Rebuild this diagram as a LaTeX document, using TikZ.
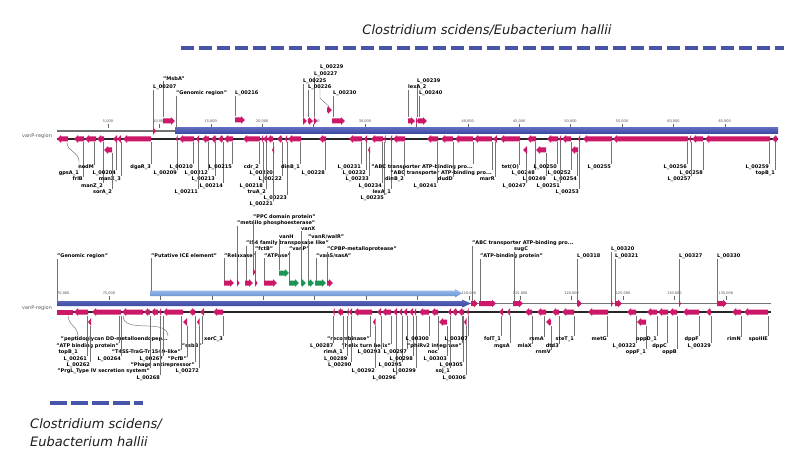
\documentclass[tikz,border=0pt]{standalone}
\usepackage{fontspec}
\setmainfont{DejaVu Sans}
\newcounter{lc}
\definecolor{mg}{RGB}{204,24,104}
\definecolor{gr}{RGB}{28,150,84}
\definecolor{bar1}{RGB}{92,104,190}
\definecolor{bar2}{RGB}{58,68,156}
\definecolor{lbar1}{RGB}{160,192,236}
\definecolor{lbar2}{RGB}{100,145,210}
\definecolor{dashc}{RGB}{72,84,170}
\definecolor{ttl}{RGB}{30,30,30}
\tikzset{
 lab/.style={inner sep=0pt,font=\fontsize{5}{6}\selectfont\bfseries,text=black},
 lead/.style={draw=black!55,line width=0.45pt},
 rul/.style={inner sep=0pt,font=\fontsize{3.5}{4}\selectfont,text=black!70},
 tickmark/.style={draw=black!60,line width=0.4pt},
 ruler/.style={draw=black!55,line width=1.2pt},
 strand/.style={draw=black!85,line width=1.1pt},
 trk/.style={inner sep=0pt,font=\fontsize{5}{6}\selectfont,text=black!65},
 species/.style={inner sep=0pt,font=\fontsize{13}{18}\selectfont\itshape,text=ttl,align=left},
 dashline/.style={draw=dashc,line width=3.5pt,dash pattern=on 13pt off 5pt},
}
\newcommand\farrow[4][mg]{\pgfmathsetmacro\hx{max(#2,#3-4)}\fill[#1] (#2,#4-2.5) -- (\hx,#4-2.5) -- (\hx,#4-3.8) -- (#3,#4) -- (\hx,#4+3.8) -- (\hx,#4+2.5) -- (#2,#4+2.5) -- cycle;}
\newcommand\rarrow[4][mg]{\pgfmathsetmacro\hx{min(#3,#2+4)}\fill[#1] (#3,#4-2.5) -- (\hx,#4-2.5) -- (\hx,#4-3.8) -- (#2,#4) -- (\hx,#4+3.8) -- (\hx,#4+2.5) -- (#3,#4+2.5) -- cycle;}
\newcommand\toplab[4]{\stepcounter{lc}\node[lab,anchor=west] (n\thelc) at (#1,#2) {#3};\coordinate (c\thelc) at (#1,#4);\draw[lead] (n\thelc.south west) -- (c\thelc);}
\newcommand\botlab[4]{\stepcounter{lc}\node[lab,anchor=east] (n\thelc) at (#1,#2) {#3};\coordinate (c\thelc) at (#1,#4);\draw[lead] (n\thelc.north east) -- (c\thelc);}
\begin{document}
\begin{tikzpicture}[x=1pt,y=-1pt]
\useasboundingbox (0,0) rectangle (798,473);
\fill[white] (0,0) rectangle (798,473);
% species labels and dashed bars
\node[species] (title) at (487,30) {Clostridium scidens/Eubacterium hallii};
\coordinate (d1) at (181,48); \coordinate (d2) at (784,48);
\draw[dashline] (d1) -- (d2);
\coordinate (d3) at (50,403); \coordinate (d4) at (143,403);
\draw[dashline,dash pattern=on 17pt off 4pt] (d3) -- (d4);
\node[species,anchor=west] (sp2) at (30,433) {Clostridium scidens/\\Eubacterium hallii};

% ================= TOP TRACK =================
\node[trk,anchor=west] (tr1) at (22,136) {vanP-region};
\coordinate (r1a) at (57,131); \coordinate (r1b) at (778,131);
\draw[ruler] (r1a) -- (r1b);
\foreach \k in {1,...,13}{
  \pgfmathtruncatemacro\v{5*\k}
  \coordinate (tk\k) at ({56.6+51.4*\k},124);
  \draw[tickmark] (tk\k) -- ++(0,4);
  \node[rul] (rt\k) at ({56.6+51.4*\k},121) {\v,000};
}
\shade[top color=bar1,bottom color=bar2] (175,128) rectangle (778,134);
\coordinate (s1a) at (57,139); \coordinate (s1b) at (778,139);
\draw[strand] (s1a) -- (s1b);

% top labels (forward strand)
\toplab{163}{79}{"MsbA"}{117}
\toplab{153}{87}{L\_00207}{128.5}
\toplab{176}{93}{"Genomic region"}{128}
\toplab{235}{93}{L\_00216}{116.5}
\stepcounter{lc}\node[lab,anchor=west] (l229) at (320,67) {L\_00229};
\coordinate (f229) at (329,106.5);
\draw[lead] (l229.south west) -- (320,98) -- (f229);
\toplab{314}{74}{L\_00227}{117}
\toplab{303}{81}{L\_00225}{117}
\toplab{308}{87}{L\_00226}{117}
\toplab{333}{93}{L\_00230}{117}
\toplab{417}{81}{L\_00239}{117}
\toplab{408}{87}{lexA\_2}{117}
\toplab{419}{93}{L\_00240}{117}

% bottom labels (reverse strand)
\node[lab,anchor=east] (gps) at (79,173) {gpsA\_1};
\coordinate (gpsf) at (67,142.5);
\draw[lead] (gps.north east) -- (79,161) to[out=90,in=-90] (gpsf);
\botlab{83}{179}{frlB}{142.5}
\botlab{94}{167}{nodM}{142.5}
\botlab{103}{186}{manZ\_2}{142.5}
\botlab{116}{173}{L\_00204}{142.5}
\botlab{121}{179}{manX\_3}{142.5}
\botlab{112}{192}{sorA\_2}{153.5}
\botlab{151}{167}{dgaR\_3}{142.5}
\botlab{177}{173}{L\_00209}{142.5}
\botlab{193}{167}{L\_00210}{142.5}
\botlab{208}{173}{L\_00212}{142.5}
\botlab{215}{179}{L\_00213}{142.5}
\botlab{223}{186}{L\_00214}{142.5}
\botlab{198}{192}{L\_00211}{142.5}
\botlab{232}{167}{L\_00215}{142.5}
\botlab{259}{167}{cdr\_2}{142.5}
\botlab{273}{173}{L\_00220}{142.5}
\botlab{282}{179}{L\_00222}{142.5}
\botlab{263}{186}{L\_00218}{142.5}
\botlab{266}{192}{truA\_2}{142.5}
\botlab{287}{198}{L\_00223}{142.5}
\botlab{273}{204}{L\_00221}{151.5}
\botlab{300}{167}{dinB\_1}{142.5}
\botlab{325}{173}{L\_00228}{142.5}
\botlab{361}{167}{L\_00231}{142.5}
\botlab{366}{173}{L\_00232}{142.5}
\botlab{369}{179}{L\_00233}{151.5}
\botlab{382}{186}{L\_00234}{142.5}
\botlab{391}{192}{lexA\_1}{142.5}
\botlab{384}{198}{L\_00235}{142.5}
\botlab{473}{167}{"ABC transporter ATP-binding pro...}{142.5}
\botlab{492}{173}{"ABC transporter ATP-binding pro...}{142.5}
\botlab{404}{179}{dinB\_2}{142.5}
\botlab{453}{179}{dudD}{142.5}
\botlab{437}{186}{L\_00241}{142.5}
\botlab{495}{179}{marR}{142.5}
\botlab{519}{167}{tet(O)}{142.5}
\botlab{535}{173}{L\_00248}{142.5}
\botlab{546}{179}{L\_00249}{153.5}
\botlab{526}{186}{L\_00247}{153.5}
\botlab{557}{167}{L\_00250}{142.5}
\botlab{571}{173}{L\_00252}{142.5}
\botlab{577}{179}{L\_00254}{153.5}
\botlab{560}{186}{L\_00251}{142.5}
\botlab{579}{192}{L\_00253}{142.5}
\botlab{611}{167}{L\_00255}{142.5}
\botlab{687}{167}{L\_00256}{142.5}
\botlab{703}{173}{L\_00258}{142.5}
\botlab{691}{179}{L\_00257}{142.5}
\botlab{769}{167}{L\_00259}{142.5}
\botlab{775}{173}{topB\_1}{142.5}

% forward features
\farrow{163}{175}{121}
\farrow{153}{156}{131}
\farrow{235}{245}{120}
\farrow{303}{307}{121}
\farrow{308}{313}{121}
\farrow{314}{317}{121}
\farrow{327}{332}{110}
\farrow{332}{345}{121}
\farrow{408}{415}{121}
\farrow{416}{418}{121}
\farrow{418}{427}{121}
% reverse features row 1
\foreach \a/\b in {57/68,74/84,85/96,97/104,113/117,117/121,123/151,176/177.5,179/194,196/199,202/209,211/216,218/223,224/233,243/260,261/263,263/267,267/273,277/282,285/287,288/301,319/326,349/362,364/367,371/383,384/385.5,390/392,393/405,427/438,441/453,455/473,474/492,493/497,500/520,527/536,547/558,559/561,562/571,578/580,583/612,613/688,689/691,692/703,705/770,772/777}{\rarrow{\a}{\b}{139}}
% reverse features row 2
\foreach \a/\b in {104/112,272/274,368/370,523/527,536/546,571/578}{\rarrow{\a}{\b}{150}}

% ================= BOTTOM TRACK =================
\node[trk,anchor=west] (tr2) at (22,308) {vanP-region};
\node[rul,anchor=west] (b0) at (57,293) {70,000};
\foreach \k in {1,...,13}{
  \pgfmathtruncatemacro\v{70+5*\k}
  \coordinate (bk\k) at ({57.6+51.4*\k},296);
  \draw[tickmark] (bk\k) -- ++(0,4);
  \node[rul] (bt\k) at ({57.6+51.4*\k},293) {\v,000};
}
% Putative ICE element bar
\shade[top color=lbar1,bottom color=lbar2] (150,290.5) -- (455,290.5) -- (455,289) -- (462,293.2) -- (455,297.4) -- (455,296) -- (150,296) -- cycle;
% Genomic region bar
\coordinate (g1) at (470,303.5); \coordinate (g2) at (771,303.5);
\draw[ruler] (g1) -- (g2);
\shade[top color=bar1,bottom color=bar2] (57,301) -- (462,301) -- (462,299.5) -- (471,303.5) -- (462,307.5) -- (462,306) -- (57,306) -- cycle;
\coordinate (s2a) at (57,312); \coordinate (s2b) at (771,312);
\draw[strand] (s2a) -- (s2b);

% top labels
\toplab{57}{256}{"Genomic region"}{301}
\toplab{151}{256}{"Putative ICE element"}{290.5}
\toplab{224}{256}{"Relaxase"}{280.5}
\toplab{237}{223}{"metallo phosphoesterase"}{280.5}
\toplab{246}{243}{"IS4 family transposase like"}{280.5}
\toplab{253}{217}{"PPC domain protein"}{269.5}
\toplab{255}{249}{"fctB"}{280.5}
\toplab{264}{256}{"ATPase"}{280.5}
\toplab{279}{237}{vanH}{270}
\toplab{289}{249}{"vanP"}{280.5}
\toplab{301}{229}{vanX}{280.5}
\toplab{308}{237}{"vanR/walR"}{280.5}
\toplab{316}{256}{"vanS/sasA"}{280.5}
\toplab{327}{249}{"CPBP-metalloprotease"}{280.5}
\toplab{472}{243}{"ABC transporter ATP-binding pro...}{300.5}
\toplab{480}{256}{"ATP-binding protein"}{300.5}
\toplab{514}{249}{sugC}{300.5}
\toplab{577}{256}{L\_00318}{300.5}
\toplab{611}{249}{L\_00320}{300.5}
\toplab{615}{256}{L\_00321}{300.5}
\toplab{679}{256}{L\_00327}{300.5}
\toplab{717}{256}{L\_00330}{300.5}

% bottom labels
\node[lab,anchor=east] (tpb) at (78,352) {topB\_1};
\coordinate (tpbf) at (68,315.5);
\draw[lead] (tpb.north east) -- (78,336) to[out=90,in=-90] (tpbf);
\node[lab,anchor=east] (pep) at (168,339) {"peptidoglycan DD-metalloendopep...};
\coordinate (pepf) at (123,315.5);
\draw[lead] (pep.north east) to[out=90,in=-90] (pepf);
\botlab{223}{339}{xerC\_3}{315.5}
\botlab{119}{346}{"ATP binding protein"}{315.5}
\botlab{202}{346}{"ssbB"}{315.5}
\botlab{181}{352}{"T4SS-TraG-Tn1549-like"}{315.5}
\botlab{87}{359}{L\_00261}{315.5}
\botlab{121}{359}{L\_00264}{315.5}
\botlab{163}{359}{L\_00267}{315.5}
\botlab{187}{359}{"PcfB"}{325.5}
\botlab{90}{365}{L\_00262}{325.5}
\botlab{195}{365}{"Phage antirepressor"}{315.5}
\botlab{150}{371}{"PrgL\_Type IV secretion system"}{315.5}
\botlab{199}{371}{L\_00272}{325.5}
\botlab{160}{378}{L\_00268}{315.5}
\botlab{370}{339}{"recombinase"}{315.5}
\botlab{333.5}{346}{L\_00287}{315.5}
\botlab{391}{346}{"helix turn helix"}{315.5}
\botlab{343}{352}{rimA\_1}{315.5}
\botlab{347.5}{359}{L\_00289}{315.5}
\botlab{351.5}{365}{L\_00290}{315.5}
\botlab{381}{352}{L\_00293}{315.5}
\botlab{375}{371}{L\_00292}{325.5}
\botlab{402}{365}{L\_00295}{315.5}
\botlab{396}{378}{L\_00296}{315.5}
\botlab{413}{359}{L\_00298}{315.5}
\botlab{407}{352}{L\_00297}{315.5}
\botlab{416}{371}{L\_00299}{315.5}
\botlab{429}{339}{L\_00300}{315.5}
\botlab{462}{346}{"phiRv2 integrase"}{315.5}
\botlab{438}{352}{noc}{315.5}
\botlab{447}{359}{L\_00303}{325.5}
\botlab{463}{365}{L\_00305}{315.5}
\botlab{450}{371}{soj\_1}{315.5}
\botlab{466}{378}{L\_00306}{325.5}
\botlab{468}{339}{L\_00307}{315.5}
\botlab{501}{339}{folT\_1}{315.5}
\botlab{510}{346}{mgsA}{315.5}
\botlab{532}{346}{mlaX}{315.5}
\botlab{544}{339}{rsmA}{315.5}
\botlab{551}{352}{rnmV}{325.5}
\botlab{559}{346}{dtd3}{315.5}
\botlab{574}{339}{steT\_1}{315.5}
\botlab{607}{339}{metG}{315.5}
\botlab{636}{346}{L\_00322}{315.5}
\botlab{646}{352}{oppF\_1}{325.5}
\botlab{657}{339}{oppD\_1}{315.5}
\botlab{667}{346}{dppC}{315.5}
\botlab{677}{352}{oppB}{315.5}
\botlab{699}{339}{dppF}{315.5}
\botlab{711}{346}{L\_00329}{315.5}
\botlab{741}{339}{rimN}{315.5}
\botlab{768}{339}{spoIIIE}{315.5}

% forward features in ICE
\foreach \a/\b in {224/234,237/239.5,245/253,255/257.5,264/277,327/333}{\farrow{\a}{\b}{283}}
\farrow{253}{255.5}{272}
\foreach \a/\b in {289/299,301/306,308/314,315/326}{\farrow[gr]{\a}{\b}{283}}
\farrow[gr]{279}{289}{273}
% forward features on backbone
\foreach \a/\b in {471/478,479/496,513/523,577/582,611/613,615/622,679/681,717/727}{\farrow{\a}{\b}{303.5}}
% reverse features row 1
\fill[mg] (57,309.5) rectangle (73,314.5);
\foreach \a/\b in {74/88,92/121,122/143,144/150,151/158,159/161,163/183,189/195,200/204,213/223,333/334.5,337/343,347/348.5,349/352,354/372,377/381,382/391,393/397,399/402,403/407,409/413,414/416,419/429,431/438,448/451,452/457,458/464,467/468.5,499/503,507/510,525/532,537/546,552/559,562/574,588/608,627/636,647/657,658/668,669/677,683/699,706/711,732/741,744/768}{\rarrow{\a}{\b}{312}}
% reverse features row 2
\foreach \a/\b in {88/91,183/187,197/199.5,373/375.5,439/447,464/466.5,546/551,637/646}{\rarrow{\a}{\b}{322}}
\end{tikzpicture}
\end{document}
